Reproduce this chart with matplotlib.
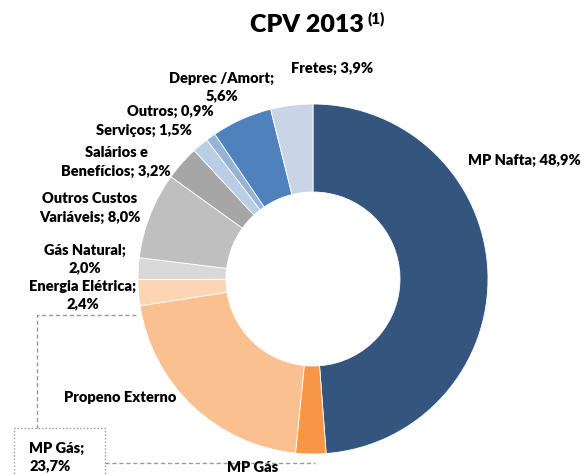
import matplotlib.pyplot as plt
from matplotlib.patches import Rectangle

# dados do CPV 2013 (% do custo)
categorias = ['MP Nafta', 'MP Gás', 'Propeno Externo', 'Energia Elétrica',
              'Gás Natural', 'Outros Custos Variáveis', 'Salários e Benefícios',
              'Serviços', 'Outros', 'Deprec /Amort', 'Fretes']
valores = [48.9, 2.8, 21.0, 2.4, 2.0, 8.0, 3.2, 1.5, 0.9, 5.6, 3.9]
cores = ['#34567E', '#F79646', '#FAC090', '#FCD5B4', '#D9D9D9', '#BFBFBF',
         '#A6A6A6', '#B9CDE5', '#95B3D7', '#4F81BD', '#C9D5E7']

W, H = 585, 476
fig = plt.figure(figsize=(W / 100, H / 100), dpi=100)
ax = fig.add_axes([0, 0, 1, 1])


def py(y):
    # converte y em pixel (de cima) para coordenada do eixo
    return H - y


ax.pie(valores, colors=cores, startangle=90, counterclock=False,
       center=(313, py(279)), radius=175,
       wedgeprops=dict(width=88, edgecolor='white', linewidth=0.6))
ax.set_xlim(0, W)
ax.set_ylim(0, H)
ax.set_aspect('equal')
ax.axis('off')

fonte = dict(family='Lato', fontweight='heavy', fontsize=10.5, color='black')

# rótulos (posição em pixels da imagem)
rotulos = [
    ('MP Nafta; 48,9%', 524, 160),
    ('Fretes; 3,9%', 332, 68),
    ('Deprec /Amort;\n5,6%', 222, 87),
    ('Outros; 0,9%', 170, 111),
    ('Serviços; 1,5%', 144, 130),
    ('Salários e\nBenefícios; 3,2%', 116, 162),
    ('Outros Custos\nVariáveis; 8,0%', 90, 208),
    ('Gás Natural;\n2,0%', 85, 259),
    ('Energia Elétrica;\n2,4%', 83, 295),
    ('Propeno Externo', 120, 397),
]
for txt, x, y in rotulos:
    ax.text(x, py(y), txt, ha='center', va='center', multialignment='center',
            linespacing=1.45, **fonte)

# rótulo deslocado com linha tracejada
ax.plot([136, 37, 37], [py(315), py(315), py(428)], color='#999999',
        lw=1, ls=(0, (3, 2)))
ax.add_patch(Rectangle((14, py(480)), 91, 52, fill=False,
                       edgecolor='#999999', lw=1, ls=(0, (1, 1.5))))
ax.text(29, py(457), 'MP Gás;\n23,7%', ha='left', va='center',
        linespacing=1.45, **fonte)
ax.plot([105, 315], [py(463), py(463)], color='#999999', lw=1,
        ls=(0, (3, 2)))
ax.text(253, py(468), 'MP Gás', ha='center', va='center', **fonte)

# título
ax.text(307, py(25), 'CPV 2013', ha='center', va='center', family='Lato',
        fontweight='heavy', fontsize=18)
ax.text(367, py(19), '(1)', ha='left', va='center', family='Lato',
        fontweight='heavy', fontsize=11)

fig.savefig('out.png', dpi=100)
